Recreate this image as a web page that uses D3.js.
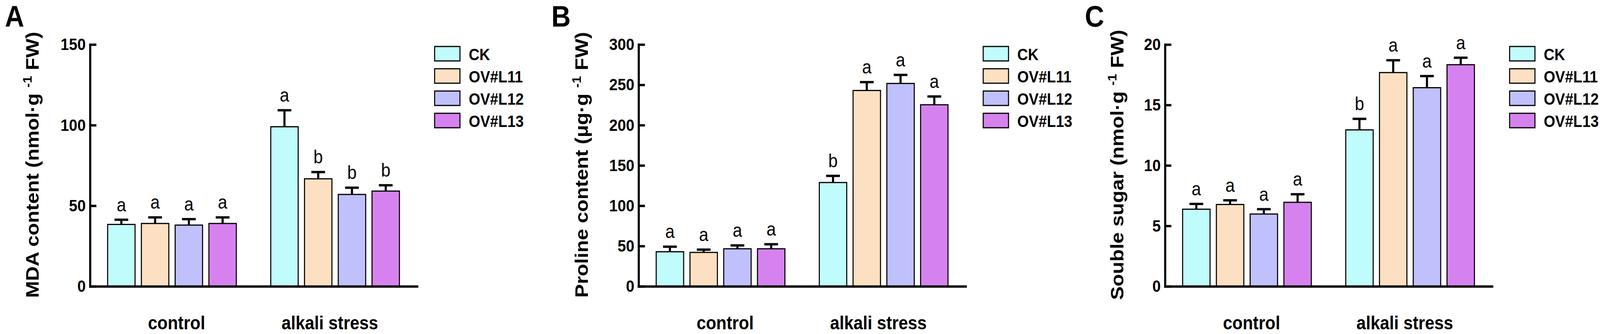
<!DOCTYPE html>
<html>
<head>
<meta charset="utf-8">
<script src="https://cdn.jsdelivr.net/npm/d3@7"></script>
<style>
  html, body { margin: 0; padding: 0; background: #fff; overflow: hidden; }
  svg { display: block; }
  text { font-family: "Liberation Sans", Arial, sans-serif; fill: #000; }
</style>
</head>
<body>
<div id="chart"></div>
<script>
// Categories and series
var groups = ["control", "alkali stress"];
var series = ["CK", "OV#L11", "OV#L12", "OV#L13"];
var colors = ["#C0FCFC", "#FDE0C2", "#C0C0FC", "#D682EE"];

// A: MDA content (rows = groups, columns = series)
var mdaMean = [[38.4, 39.0, 38.0, 39.0], [99.0, 66.7, 57.0, 59.1]];
var mdaErr = [[2.9, 3.8, 3.7, 3.8], [10.2, 4.2, 4.2, 3.6]];
var mdaLetters = [["a", "a", "a", "a"], ["a", "b", "b", "b"]];
var mdaTicks = [0, 50, 100, 150];

// B: Proline content
var proMean = [[42.9, 42.1, 46.6, 46.6], [128.8, 243.0, 251.7, 225.3]];
var proErr = [[6.3, 3.5, 4.2, 5.6], [8.2, 10.3, 10.6, 10.3]];
var proLetters = [["a", "a", "a", "a"], ["b", "a", "a", "a"]];
var proTicks = [0, 50, 100, 150, 200, 250, 300];

// C: Souble sugar
var sugarMean = [[6.38, 6.77, 5.98, 6.95], [12.94, 17.68, 16.43, 18.33]];
var sugarErr = [[0.44, 0.35, 0.40, 0.67], [0.91, 1.02, 0.96, 0.58]];
var sugarLetters = [["a", "a", "a", "a"], ["b", "a", "a", "a"]];
var sugarTicks = [0, 5, 10, 15, 20];

// Canvas (drawn in a 4550x855 viewBox, stretched over the whole window)
var width = 4550;
var height = 855;
var baseY = 733;
var topY = 114;
var plotW = 930;
var labelShift = [13, -15]; // group labels sit a little toward each other

var svg = d3.select("#chart")
  .append("svg")
  .attr("viewBox", "0 0 " + width + " " + height)
  .attr("preserveAspectRatio", "none")
  .style("width", "100vw")
  .style("height", "100vh");

svg.append("rect")
  .attr("width", width)
  .attr("height", height)
  .attr("fill", "#fff");

// Panel settings
var panels = [
  { tag: "A", tagX: 14, x: 256, titleOff: 146,
    title: ["MDA content (nmol·g ", "-1", " FW)"],
    mean: mdaMean, err: mdaErr, letters: mdaLetters, ticks: mdaTicks },
  { tag: "B", tagX: 1568, x: 1816, titleOff: 144,
    title: ["Proline content (μg·g ", "-1", " FW)"],
    mean: proMean, err: proErr, letters: proLetters, ticks: proTicks },
  { tag: "C", tagX: 3085, x: 3313, titleOff: 118,
    title: ["Souble sugar (nmol·g ", "-1", " FW)"],
    mean: sugarMean, err: sugarErr, letters: sugarLetters, ticks: sugarTicks }
];

var color = d3.scaleOrdinal().domain(series).range(colors);

function drawPanel(p) {
  var g = svg.append("g").attr("transform", "translate(" + p.x + ",0)");

  var y = d3.scaleLinear()
    .domain([0, d3.max(p.ticks)])
    .range([baseY, topY]);

  var x0 = d3.scaleBand()
    .domain(groups)
    .range([0, plotW])
    .paddingInner(0.211)
    .paddingOuter(0.108);

  var x1 = d3.scaleBand()
    .domain(series)
    .range([0, x0.bandwidth()])
    .paddingInner(0.1875);

  // Flatten values into rows
  var rows = [];
  groups.forEach(function(gr, gi) {
    series.forEach(function(s, si) {
      rows.push({ group: gr, series: s, mean: p.mean[gi][si], err: p.err[gi][si], letter: p.letters[gi][si] });
    });
  });

  var cx = function(d) { return x0(d.group) + x1(d.series) + x1.bandwidth() / 2; };

  // Bars
  g.selectAll("rect.bar")
    .data(rows)
    .enter()
    .append("rect")
    .attr("class", "bar")
    .attr("x", function(d) { return x0(d.group) + x1(d.series); })
    .attr("y", function(d) { return y(d.mean); })
    .attr("width", x1.bandwidth())
    .attr("height", function(d) { return baseY - y(d.mean); })
    .attr("fill", function(d) { return color(d.series); })
    .attr("stroke", "#000")
    .attr("stroke-width", 3);

  // Error bars (upper only)
  g.selectAll("line.err")
    .data(rows)
    .enter()
    .append("line")
    .attr("class", "err")
    .attr("x1", cx)
    .attr("x2", cx)
    .attr("y1", function(d) { return y(d.mean); })
    .attr("y2", function(d) { return y(d.mean + d.err); })
    .attr("stroke", "#000")
    .attr("stroke-width", 6);

  g.selectAll("line.cap")
    .data(rows)
    .enter()
    .append("line")
    .attr("class", "cap")
    .attr("x1", function(d) { return cx(d) - 19.5; })
    .attr("x2", function(d) { return cx(d) + 19.5; })
    .attr("y1", function(d) { return y(d.mean + d.err); })
    .attr("y2", function(d) { return y(d.mean + d.err); })
    .attr("stroke", "#000")
    .attr("stroke-width", 6);

  // Significance letters
  g.selectAll("text.sig")
    .data(rows)
    .enter()
    .append("text")
    .attr("class", "sig")
    .attr("x", cx)
    .attr("y", function(d) { return y(d.mean + d.err) - 22; })
    .attr("text-anchor", "middle")
    .style("font-size", "48px")
    .text(function(d) { return d.letter; });

  // Y axis
  var yAxis = g.append("g")
    .call(d3.axisLeft(y).tickValues(p.ticks).tickSizeInner(-18).tickSizeOuter(0).tickPadding(12));
  yAxis.select(".domain").attr("stroke-width", 6).attr("stroke-linecap", "square");
  yAxis.selectAll(".tick line").attr("stroke-width", 6);
  yAxis.selectAll(".tick text")
    .attr("fill", "#000")
    .style("font-size", "43px")
    .style("font-weight", "bold")
    .style("font-family", "'Liberation Sans', Arial, sans-serif");

  // X axis
  var xAxis = g.append("g")
    .attr("transform", "translate(0," + baseY + ")")
    .call(d3.axisBottom(x0).tickSize(0).tickPadding(76));
  xAxis.select(".domain").attr("stroke-width", 6).attr("stroke-linecap", "square");
  xAxis.selectAll(".tick text")
    .attr("fill", "#000")
    .attr("dx", function(d, i) { return labelShift[i]; })
    .style("font-size", "48px")
    .style("font-weight", "bold")
    .style("font-family", "'Liberation Sans', Arial, sans-serif");

  // Y title with superscript
  var t = g.append("text")
    .attr("transform", "translate(" + (-p.titleOff) + ",422) rotate(-90)")
    .attr("text-anchor", "middle")
    .style("font-size", "52px")
    .style("font-weight", "bold");
  t.append("tspan").text(p.title[0]);
  t.append("tspan").attr("dy", -20).style("font-size", "34px").text(p.title[1]);
  t.append("tspan").attr("dy", 20).text(p.title[2]);

  // Legend
  var leg = g.selectAll("g.leg")
    .data(series)
    .enter()
    .append("g")
    .attr("class", "leg")
    .attr("transform", function(d, i) { return "translate(980," + (119 + i * 57) + ")"; });

  leg.append("rect")
    .attr("width", 72)
    .attr("height", 37)
    .attr("fill", function(d) { return color(d); })
    .attr("stroke", "#000")
    .attr("stroke-width", 3);

  leg.append("text")
    .attr("x", 97)
    .attr("y", 35)
    .style("font-size", "42px")
    .style("font-weight", "bold")
    .text(function(d) { return d; });

  // Panel letter
  svg.append("text")
    .attr("x", p.tagX)
    .attr("y", 68)
    .style("font-size", "76px")
    .style("font-weight", "bold")
    .text(p.tag);
}

panels.forEach(drawPanel);
</script>
</body>
</html>
